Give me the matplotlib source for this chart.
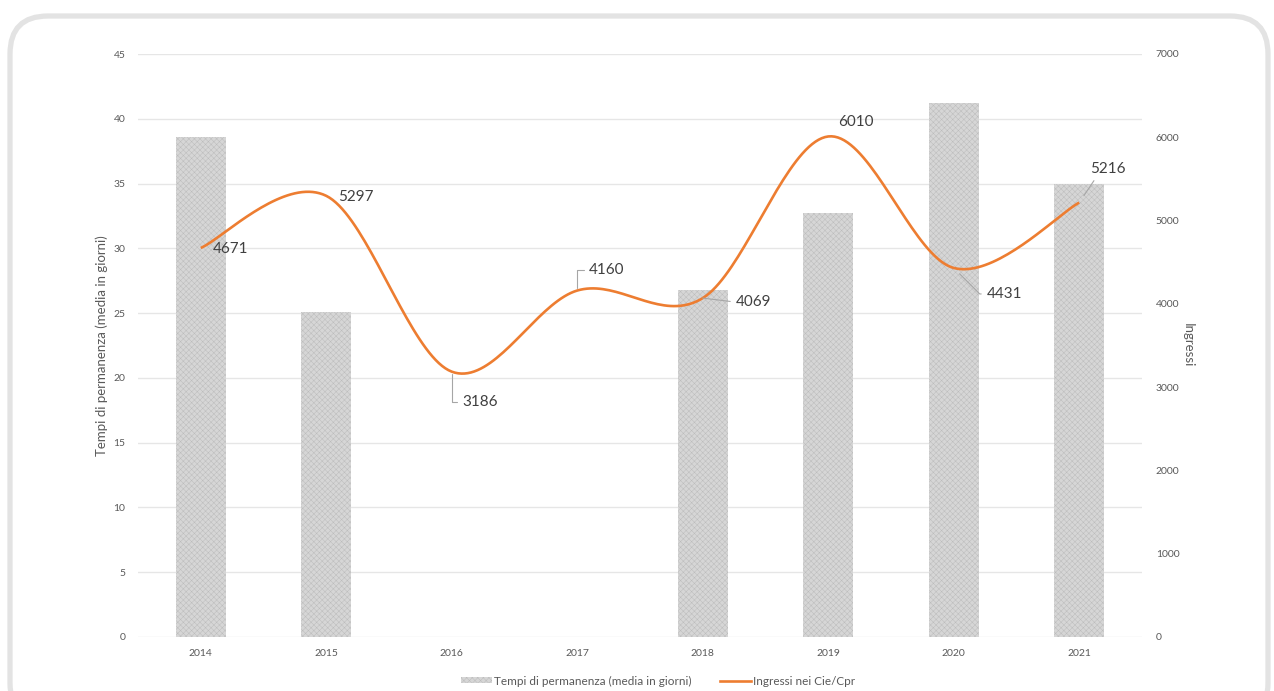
import numpy as np
import matplotlib
matplotlib.use("Agg")
import matplotlib.pyplot as plt
from matplotlib.patches import FancyBboxPatch, Patch
from matplotlib.lines import Line2D

plt.rcParams['font.family'] = ['Lato', 'DejaVu Sans']
plt.rcParams['hatch.linewidth'] = 0.35

# ---- data ----
years = ['2014', '2015', '2016', '2017', '2018', '2019', '2020', '2021']
tempi = [38.6, 25.1, 0, 0, 26.8, 32.7, 41.2, 35.0]
ingressi = [4671, 5297, 3186, 4160, 4069, 6010, 4431, 5216]
left_ticks = [0, 5, 10, 15, 20, 25, 30, 35, 40, 45]
right_ticks = [0, 1000, 2000, 3000, 4000, 5000, 6000, 7000]
bar_label = 'Tempi di permanenza (media in giorni)'
line_label = 'Ingressi nei Cie/Cpr'
left_ylabel = 'Tempi di permanenza (media in giorni)'
right_ylabel = 'Ingressi'

ORANGE = '#ED7D31'
TXT = '#595959'
BAR_FC = '#d6d6d6'
BAR_HC = '#bcbcbc'

fig = plt.figure(figsize=(12.74, 6.91), dpi=100)
W, H = 1274, 691
ax = fig.add_axes([138 / W, 1 - 637 / H, (1142 - 138) / W, (637 - 54) / H])
ax2 = ax.twinx()

x = np.arange(len(years))
ax.bar(x, tempi, width=0.4, facecolor=BAR_FC, edgecolor=BAR_HC, hatch='xxxxxx',
       linewidth=0, zorder=2)
ax.set_xlim(-0.5, len(years) - 0.5)
ax.set_ylim(0, 45)
ax.set_yticks(left_ticks)
ax.set_xticks(x)
ax.set_xticklabels(years)
ax.grid(axis='y', color='#e6e6e6', lw=1.0, zorder=0)
ax.set_axisbelow(True)
for s in ax.spines.values():
    s.set_visible(False)
for s in ax2.spines.values():
    s.set_visible(False)
ax.tick_params(axis='both', length=0, labelsize=7.5, labelcolor=TXT)
ax.tick_params(axis='y', pad=9)
ax.tick_params(axis='x', pad=9)
ax.set_ylabel(left_ylabel, fontsize=9.5, color=TXT, labelpad=4)

# smoothed line (Catmull-Rom style, like Excel's smoothed line)
def smooth(xs, ys, n=40):
    xs = np.asarray(xs, float); ys = np.asarray(ys, float)
    P = np.column_stack([xs, ys])
    Pext = np.vstack([P[0], P, P[-1]])
    out = []
    for i in range(len(P) - 1):
        p0, p1, p2, p3 = Pext[i], Pext[i + 1], Pext[i + 2], Pext[i + 3]
        c1 = p1 + (p2 - p0) / 6
        c2 = p2 - (p3 - p1) / 6
        t = np.linspace(0, 1, n)[:, None]
        seg = ((1 - t) ** 3) * p1 + 3 * ((1 - t) ** 2) * t * c1 + 3 * (1 - t) * t ** 2 * c2 + t ** 3 * p2
        out.append(seg if i == 0 else seg[1:])
    out = np.vstack(out)
    return out[:, 0], out[:, 1]

sx, sy = smooth(x, ingressi)
ax2.plot(sx, sy, color=ORANGE, lw=1.9, solid_capstyle='butt', zorder=3)
ax2.set_ylim(0, 7000)
ax2.set_yticks(right_ticks)
ax2.tick_params(axis='y', length=0, labelsize=7.5, labelcolor=TXT, pad=10)
ax2.set_ylabel(right_ylabel, fontsize=9.5, color=TXT, rotation=270, labelpad=10)

# data labels: (dx, dy) offsets in pixels, leader style
offsets = [(12, -1, None), (12, -1, None), (11, -30, 'down'), (12, 21, 'up'),
           (33, -4, 'flat'), (10, 14, None), (33, -26, 'diag'), (11, 34, 'diag2')]
for i, (v, (dx, dy, lead)) in enumerate(zip(ingressi, offsets)):
    kw = dict(xy=(x[i], v), xytext=(dx, dy), textcoords='offset pixels',
              ha='left', va='center', fontsize=11, color='#404040', zorder=5)
    if lead == 'down' or lead == 'up':
        kw['arrowprops'] = dict(arrowstyle='-', color='#a6a6a6', lw=0.8,
                                connectionstyle='angle,angleA=0,angleB=90,rad=0',
                                relpos=(0, 0.5), shrinkA=2, shrinkB=2)
    elif lead == 'flat':
        kw['arrowprops'] = dict(arrowstyle='-', color='#a6a6a6', lw=0.8,
                                relpos=(0, 0.5), shrinkA=2, shrinkB=22)
    elif lead == 'diag':
        kw['arrowprops'] = dict(arrowstyle='-', color='#a6a6a6', lw=0.8,
                                connectionstyle='angle,angleA=0,angleB=-45,rad=0',
                                relpos=(0, 0.5), shrinkA=2, shrinkB=6)
    elif lead == 'diag2':
        kw['arrowprops'] = dict(arrowstyle='-', color='#a6a6a6', lw=0.8,
                                relpos=(0.2, 0.0), shrinkA=2, shrinkB=6)
    ax2.annotate(str(v), **kw)

# legend
handles = [Patch(facecolor=BAR_FC, edgecolor=BAR_HC, hatch='xxxxxx', linewidth=0),
           Line2D([0], [0], color=ORANGE, lw=1.9)]
leg = fig.legend(handles, [bar_label, line_label], loc='center',
                 bbox_to_anchor=(658 / W, 1 - 681 / H), ncol=2, frameon=False,
                 fontsize=8.5, handlelength=2.6, handleheight=0.45, columnspacing=2.4,
                 handletextpad=0.2)
for t in leg.get_texts():
    t.set_color(TXT)

# rounded frame
frame = FancyBboxPatch((0.10, -0.30), 12.58, 7.05,
                       boxstyle='round,pad=0,rounding_size=0.38',
                       transform=fig.dpi_scale_trans, facecolor='none',
                       edgecolor='#e3e3e3', lw=3.8, zorder=-1)
fig.patches.append(frame)

fig.savefig('out.png', dpi=100)
